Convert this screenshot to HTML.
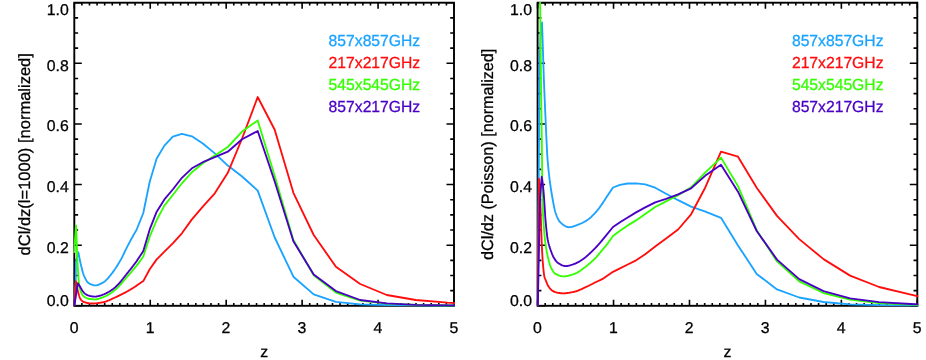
<!DOCTYPE html>
<html><head><meta charset="utf-8"><title>dCl/dz</title>
<style>
html,body{margin:0;padding:0;background:#fff;}
body{width:926px;height:360px;overflow:hidden;font-family:"Liberation Sans",sans-serif;}
svg{display:block;font-family:"Liberation Sans",sans-serif;will-change:transform;}
</style></head><body>
<svg width="926" height="360" viewBox="0 0 926 360" text-rendering="geometricPrecision">
<rect width="926" height="360" fill="#fff"/>
<g stroke="#000" stroke-width="1.9" fill="none" stroke-linecap="butt">
<rect x="74.3" y="2.7" width="379.7" height="303.1"/>
</g>
<g stroke="#000" stroke-width="1.6" fill="none" stroke-linecap="butt">
<path d="M74.30 305.8 v-6.0 M74.30 2.7 v6.0"/>
<path d="M81.89 305.8 v-2.9 M81.89 2.7 v2.9"/>
<path d="M89.49 305.8 v-2.9 M89.49 2.7 v2.9"/>
<path d="M97.08 305.8 v-2.9 M97.08 2.7 v2.9"/>
<path d="M104.68 305.8 v-2.9 M104.68 2.7 v2.9"/>
<path d="M112.27 305.8 v-2.9 M112.27 2.7 v2.9"/>
<path d="M119.86 305.8 v-2.9 M119.86 2.7 v2.9"/>
<path d="M127.46 305.8 v-2.9 M127.46 2.7 v2.9"/>
<path d="M135.05 305.8 v-2.9 M135.05 2.7 v2.9"/>
<path d="M142.65 305.8 v-2.9 M142.65 2.7 v2.9"/>
<path d="M150.24 305.8 v-6.0 M150.24 2.7 v6.0"/>
<path d="M157.83 305.8 v-2.9 M157.83 2.7 v2.9"/>
<path d="M165.43 305.8 v-2.9 M165.43 2.7 v2.9"/>
<path d="M173.02 305.8 v-2.9 M173.02 2.7 v2.9"/>
<path d="M180.62 305.8 v-2.9 M180.62 2.7 v2.9"/>
<path d="M188.21 305.8 v-2.9 M188.21 2.7 v2.9"/>
<path d="M195.80 305.8 v-2.9 M195.80 2.7 v2.9"/>
<path d="M203.40 305.8 v-2.9 M203.40 2.7 v2.9"/>
<path d="M210.99 305.8 v-2.9 M210.99 2.7 v2.9"/>
<path d="M218.59 305.8 v-2.9 M218.59 2.7 v2.9"/>
<path d="M226.18 305.8 v-6.0 M226.18 2.7 v6.0"/>
<path d="M233.77 305.8 v-2.9 M233.77 2.7 v2.9"/>
<path d="M241.37 305.8 v-2.9 M241.37 2.7 v2.9"/>
<path d="M248.96 305.8 v-2.9 M248.96 2.7 v2.9"/>
<path d="M256.56 305.8 v-2.9 M256.56 2.7 v2.9"/>
<path d="M264.15 305.8 v-2.9 M264.15 2.7 v2.9"/>
<path d="M271.74 305.8 v-2.9 M271.74 2.7 v2.9"/>
<path d="M279.34 305.8 v-2.9 M279.34 2.7 v2.9"/>
<path d="M286.93 305.8 v-2.9 M286.93 2.7 v2.9"/>
<path d="M294.53 305.8 v-2.9 M294.53 2.7 v2.9"/>
<path d="M302.12 305.8 v-6.0 M302.12 2.7 v6.0"/>
<path d="M309.71 305.8 v-2.9 M309.71 2.7 v2.9"/>
<path d="M317.31 305.8 v-2.9 M317.31 2.7 v2.9"/>
<path d="M324.90 305.8 v-2.9 M324.90 2.7 v2.9"/>
<path d="M332.50 305.8 v-2.9 M332.50 2.7 v2.9"/>
<path d="M340.09 305.8 v-2.9 M340.09 2.7 v2.9"/>
<path d="M347.68 305.8 v-2.9 M347.68 2.7 v2.9"/>
<path d="M355.28 305.8 v-2.9 M355.28 2.7 v2.9"/>
<path d="M362.87 305.8 v-2.9 M362.87 2.7 v2.9"/>
<path d="M370.47 305.8 v-2.9 M370.47 2.7 v2.9"/>
<path d="M378.06 305.8 v-6.0 M378.06 2.7 v6.0"/>
<path d="M385.65 305.8 v-2.9 M385.65 2.7 v2.9"/>
<path d="M393.25 305.8 v-2.9 M393.25 2.7 v2.9"/>
<path d="M400.84 305.8 v-2.9 M400.84 2.7 v2.9"/>
<path d="M408.44 305.8 v-2.9 M408.44 2.7 v2.9"/>
<path d="M416.03 305.8 v-2.9 M416.03 2.7 v2.9"/>
<path d="M423.62 305.8 v-2.9 M423.62 2.7 v2.9"/>
<path d="M431.22 305.8 v-2.9 M431.22 2.7 v2.9"/>
<path d="M438.81 305.8 v-2.9 M438.81 2.7 v2.9"/>
<path d="M446.41 305.8 v-2.9 M446.41 2.7 v2.9"/>
<path d="M454.00 305.8 v-6.0 M454.00 2.7 v6.0"/>
<path d="M74.3 305.80 h7.5 M454.0 305.80 h-7.5"/>
<path d="M74.3 290.64 h3.8 M454.0 290.64 h-3.8"/>
<path d="M74.3 275.49 h3.8 M454.0 275.49 h-3.8"/>
<path d="M74.3 260.34 h3.8 M454.0 260.34 h-3.8"/>
<path d="M74.3 245.18 h7.5 M454.0 245.18 h-7.5"/>
<path d="M74.3 230.03 h3.8 M454.0 230.03 h-3.8"/>
<path d="M74.3 214.87 h3.8 M454.0 214.87 h-3.8"/>
<path d="M74.3 199.72 h3.8 M454.0 199.72 h-3.8"/>
<path d="M74.3 184.56 h7.5 M454.0 184.56 h-7.5"/>
<path d="M74.3 169.41 h3.8 M454.0 169.41 h-3.8"/>
<path d="M74.3 154.25 h3.8 M454.0 154.25 h-3.8"/>
<path d="M74.3 139.09 h3.8 M454.0 139.09 h-3.8"/>
<path d="M74.3 123.94 h7.5 M454.0 123.94 h-7.5"/>
<path d="M74.3 108.78 h3.8 M454.0 108.78 h-3.8"/>
<path d="M74.3 93.63 h3.8 M454.0 93.63 h-3.8"/>
<path d="M74.3 78.48 h3.8 M454.0 78.48 h-3.8"/>
<path d="M74.3 63.32 h7.5 M454.0 63.32 h-7.5"/>
<path d="M74.3 48.16 h3.8 M454.0 48.16 h-3.8"/>
<path d="M74.3 33.01 h3.8 M454.0 33.01 h-3.8"/>
<path d="M74.3 17.85 h3.8 M454.0 17.85 h-3.8"/>
<path d="M74.3 2.70 h7.5 M454.0 2.70 h-7.5"/>
</g>
<g font-size="15.6" fill="#000">
<g transform="translate(74.10,333.40) scale(1.015,1)"><text text-anchor="middle" fill="#000" stroke="#000" stroke-width="0.28">0</text></g>
<g transform="translate(150.04,333.40) scale(1.015,1)"><text text-anchor="middle" fill="#000" stroke="#000" stroke-width="0.28">1</text></g>
<g transform="translate(225.98,333.40) scale(1.015,1)"><text text-anchor="middle" fill="#000" stroke="#000" stroke-width="0.28">2</text></g>
<g transform="translate(301.92,333.40) scale(1.015,1)"><text text-anchor="middle" fill="#000" stroke="#000" stroke-width="0.28">3</text></g>
<g transform="translate(377.86,333.40) scale(1.015,1)"><text text-anchor="middle" fill="#000" stroke="#000" stroke-width="0.28">4</text></g>
<g transform="translate(453.80,333.40) scale(1.015,1)"><text text-anchor="middle" fill="#000" stroke="#000" stroke-width="0.28">5</text></g>
<g transform="translate(68.70,15.10) scale(1.015,1)"><text text-anchor="end" fill="#000" stroke="#000" stroke-width="0.28">1.0</text></g>
<g transform="translate(68.70,70.70) scale(1.015,1)"><text text-anchor="end" fill="#000" stroke="#000" stroke-width="0.28">0.8</text></g>
<g transform="translate(68.70,131.40) scale(1.015,1)"><text text-anchor="end" fill="#000" stroke="#000" stroke-width="0.28">0.6</text></g>
<g transform="translate(68.70,192.10) scale(1.015,1)"><text text-anchor="end" fill="#000" stroke="#000" stroke-width="0.28">0.4</text></g>
<g transform="translate(68.70,252.90) scale(1.015,1)"><text text-anchor="end" fill="#000" stroke="#000" stroke-width="0.28">0.2</text></g>
<g transform="translate(68.70,305.60) scale(1.015,1)"><text text-anchor="end" fill="#000" stroke="#000" stroke-width="0.28">0.0</text></g>
<g transform="translate(264.15,356.70) scale(1.015,1)"><text text-anchor="middle" fill="#000" stroke="#000" stroke-width="0.28">z</text></g>
<g transform="translate(30.00,154.30) rotate(-90) scale(1.007,1)"><text text-anchor="middle" fill="#000" stroke="#000" stroke-width="0.28" font-size="16.4">dCl/dz(l=1000) [normalized]</text></g>
</g>
<clipPath id="cL"><rect x="73.3" y="1.9500000000000002" width="381.7" height="304.6"/></clipPath>
<g clip-path="url(#cL)">
<polyline points="74.3,305.8 75.7,280.0 75.9,262.0 78.4,252.3 78.9,255.1 79.4,257.7 79.9,260.2 80.4,262.6 80.9,264.8 81.1,265.6 81.4,266.8 81.9,268.8 82.4,270.7 82.9,272.5 83.4,274.1 83.9,275.5 84.4,276.7 84.9,277.7 85.4,278.7 85.9,279.6 86.4,280.5 86.9,281.2 87.4,281.9 87.9,282.5 88.4,283.0 88.9,283.3 89.4,283.6 89.9,283.8 90.4,284.1 90.9,284.3 91.4,284.5 91.9,284.7 92.4,284.9 92.9,285.0 93.4,285.2 93.9,285.3 94.4,285.3 94.9,285.4 95.3,285.4 95.4,285.4 95.9,285.4 96.4,285.3 96.9,285.2 97.4,285.1 97.9,285.0 98.4,284.8 98.9,284.6 99.4,284.4 99.9,284.2 100.4,283.9 100.9,283.7 101.4,283.4 101.9,283.2 102.4,282.9 102.9,282.6 103.3,282.4 103.4,282.3 103.9,282.0 104.4,281.7 104.9,281.3 105.4,280.9 105.9,280.4 106.4,279.9 106.9,279.4 107.4,278.8 107.9,278.3 108.4,277.7 108.9,277.1 109.4,276.5 109.9,275.9 110.4,275.3 110.9,274.6 111.1,274.4 111.4,274.0 111.9,273.4 112.4,272.8 112.9,272.1 113.4,271.4 113.9,270.7 114.4,270.0 114.9,269.3 115.4,268.5 115.9,267.8 116.4,267.0 116.9,266.2 117.4,265.4 117.9,264.6 118.4,263.8 118.9,263.0 119.4,262.1 119.9,261.3 120.0,261.1 120.4,260.4 120.9,259.5 121.4,258.6 121.9,257.6 122.4,256.6 122.9,255.6 123.4,254.6 123.9,253.5 124.4,252.5 124.9,251.4 125.4,250.4 125.9,249.4 126.4,248.4 126.9,247.3 127.4,246.4 127.8,245.6 127.9,245.4 128.4,244.5 128.9,243.5 129.4,242.6 129.9,241.7 130.4,240.7 130.9,239.8 131.4,238.9 131.9,238.0 132.4,237.1 132.9,236.2 133.4,235.3 133.9,234.4 134.4,233.5 134.9,232.6 135.4,231.7 135.9,230.9 136.4,230.0 136.7,229.5 143.3,213.0 149.7,181.8 156.7,158.5 164.4,145.6 172.8,136.7 181.9,133.9 191.9,136.3 202.8,143.5 214.8,153.4 227.8,165.6 242.1,176.5 257.7,190.6 274.7,237.5 293.4,276.7 313.7,294.4 335.9,301.8 360.2,304.4 386.8,305.2 415.8,305.5 447.6,305.7 482.3,305.8" fill="none" stroke="#1aa3ff" stroke-width="1.85" stroke-linejoin="round" stroke-linecap="butt"/>
<polyline points="74.2,305.8 76.0,281.3 76.5,284.2 77.0,287.0 77.5,289.4 77.9,291.1 78.0,291.5 78.5,293.4 79.0,295.2 79.5,296.8 80.0,298.1 80.4,298.9 80.5,299.1 81.0,299.8 81.5,300.4 82.0,300.9 82.5,301.4 83.0,301.7 83.3,301.8 83.5,301.9 84.0,302.0 84.5,302.2 85.0,302.4 85.5,302.5 86.0,302.6 86.5,302.8 87.0,302.9 87.5,303.0 88.0,303.1 88.5,303.2 89.0,303.3 89.5,303.3 90.0,303.4 90.5,303.4 91.0,303.5 91.5,303.5 92.0,303.5 92.2,303.5 92.5,303.5 93.0,303.5 93.5,303.5 94.0,303.5 94.5,303.4 95.0,303.4 95.5,303.3 96.0,303.3 96.5,303.3 97.0,303.2 97.5,303.1 98.0,303.1 98.5,303.0 99.0,302.9 99.5,302.8 100.0,302.8 100.5,302.7 101.0,302.6 101.5,302.5 102.0,302.4 102.5,302.3 103.0,302.3 103.3,302.2 103.5,302.2 104.0,302.1 104.5,301.9 105.0,301.8 105.5,301.6 106.0,301.5 106.5,301.3 107.0,301.1 107.5,300.9 108.0,300.7 108.5,300.5 109.0,300.3 109.5,300.1 110.0,299.8 110.5,299.6 111.0,299.4 111.5,299.1 112.0,298.9 112.5,298.7 113.0,298.4 113.5,298.2 114.0,298.0 114.4,297.8 114.5,297.8 115.0,297.5 115.5,297.3 116.0,297.1 116.5,296.9 117.0,296.6 117.5,296.4 118.0,296.2 118.5,295.9 119.0,295.7 119.5,295.4 120.0,295.2 120.5,294.9 121.0,294.7 121.5,294.4 122.0,294.2 122.5,293.9 123.0,293.7 123.5,293.4 124.0,293.2 124.5,292.9 125.0,292.6 125.5,292.4 126.0,292.1 126.5,291.8 127.0,291.5 127.5,291.3 127.8,291.1 128.0,291.0 128.5,290.7 129.0,290.4 129.5,290.1 130.0,289.8 130.5,289.5 131.0,289.2 131.5,288.9 132.0,288.6 132.5,288.3 133.0,288.0 133.5,287.7 134.0,287.4 134.5,287.0 135.0,286.7 135.5,286.4 136.0,286.1 136.5,285.7 136.7,285.6 143.3,281.1 149.7,269.2 156.7,259.4 164.4,251.7 172.8,243.3 181.9,233.3 191.9,219.4 202.8,206.7 214.8,193.3 227.8,172.8 242.1,138.5 257.7,97.0 274.7,129.8 293.4,192.8 313.7,235.0 335.9,266.7 360.2,284.0 386.8,295.0 415.8,300.0 447.6,302.7 482.3,304.5" fill="none" stroke="#ff0d0d" stroke-width="1.85" stroke-linejoin="round" stroke-linecap="butt"/>
<polyline points="74.0,253.0 76.0,225.5 76.5,237.6 76.8,244.0 77.0,251.1 77.3,259.0 77.5,262.7 77.9,269.0 78.0,270.6 78.5,278.7 78.7,281.0 79.0,283.4 79.5,286.5 79.9,288.3 80.0,288.7 80.5,290.5 81.0,292.0 81.5,293.3 82.0,294.2 82.1,294.4 82.5,295.0 83.0,295.6 83.5,296.1 84.0,296.6 84.5,296.9 84.9,297.2 85.0,297.3 85.5,297.5 86.0,297.8 86.5,298.0 87.0,298.3 87.5,298.5 88.0,298.6 88.5,298.8 89.0,298.9 89.3,298.9 89.5,298.9 90.0,299.0 90.5,299.0 91.0,299.1 91.5,299.1 92.0,299.2 92.5,299.2 93.0,299.2 93.5,299.3 94.0,299.3 94.5,299.3 95.0,299.3 95.5,299.3 96.0,299.3 96.5,299.2 97.0,299.2 97.5,299.1 98.0,299.0 98.5,298.9 99.0,298.7 99.5,298.6 100.0,298.4 100.5,298.2 101.0,298.1 101.5,297.9 102.0,297.7 102.5,297.5 103.0,297.3 103.3,297.2 103.5,297.1 104.0,296.9 104.5,296.7 105.0,296.5 105.5,296.3 106.0,296.0 106.5,295.8 107.0,295.5 107.5,295.2 108.0,294.9 108.5,294.6 109.0,294.3 109.5,294.0 110.0,293.7 110.5,293.3 111.0,293.0 111.5,292.6 112.0,292.3 112.5,291.9 113.0,291.6 113.5,291.2 114.0,290.8 114.4,290.5 114.5,290.4 115.0,290.0 115.5,289.6 116.0,289.2 116.5,288.7 117.0,288.2 117.5,287.7 118.0,287.2 118.5,286.7 119.0,286.2 119.5,285.6 120.0,285.1 120.5,284.5 121.0,284.0 121.5,283.4 122.0,282.8 122.5,282.2 123.0,281.6 123.5,281.0 124.0,280.4 124.5,279.8 125.0,279.3 125.5,278.7 126.0,278.1 126.5,277.5 127.0,276.9 127.5,276.3 127.8,276.0 128.0,275.8 128.5,275.2 129.0,274.6 129.5,274.1 130.0,273.5 130.5,272.9 131.0,272.3 131.5,271.8 132.0,271.2 132.5,270.6 133.0,270.0 133.5,269.4 134.0,268.8 134.5,268.2 135.0,267.6 135.5,267.0 136.0,266.4 136.5,265.8 136.7,265.6 143.3,256.5 149.7,236.7 156.7,220.0 164.4,205.6 172.8,195.0 181.9,183.3 191.9,172.2 202.8,163.3 214.8,155.6 227.8,147.0 242.1,131.6 257.7,120.4 274.7,176.0 293.4,240.0 313.7,275.2 335.9,292.5 360.2,300.6 386.8,303.6 415.8,304.9 447.6,305.5 482.3,305.8" fill="none" stroke="#33ff00" stroke-width="1.85" stroke-linejoin="round" stroke-linecap="butt"/>
<polyline points="74.3,305.8 77.9,283.3 78.4,284.1 78.9,284.8 79.4,285.6 79.9,286.4 80.4,287.2 80.9,288.1 81.4,289.0 81.9,289.9 82.4,290.7 82.7,291.1 82.9,291.4 83.4,292.0 83.9,292.6 84.4,293.1 84.9,293.6 85.4,294.0 85.9,294.3 86.0,294.4 86.4,294.6 86.9,294.9 87.4,295.1 87.9,295.3 88.4,295.5 88.9,295.7 89.4,295.9 89.9,296.0 90.4,296.1 90.9,296.2 91.4,296.3 91.9,296.3 92.4,296.4 92.9,296.5 93.4,296.5 93.9,296.6 94.4,296.6 94.9,296.6 95.4,296.6 95.9,296.6 96.4,296.5 96.9,296.4 97.4,296.3 97.9,296.2 98.4,296.1 98.9,296.0 99.4,295.9 99.9,295.7 100.4,295.6 100.9,295.5 101.4,295.3 101.9,295.1 102.4,294.9 102.9,294.7 103.4,294.5 103.9,294.3 104.4,294.1 104.9,293.8 105.4,293.6 105.9,293.3 106.0,293.3 106.4,293.1 106.9,292.8 107.4,292.6 107.9,292.3 108.4,292.0 108.9,291.8 109.4,291.5 109.9,291.2 110.4,290.8 110.9,290.5 111.4,290.2 111.9,289.9 112.4,289.5 112.9,289.1 113.4,288.8 113.9,288.4 114.4,288.0 114.9,287.6 115.4,287.2 115.9,286.7 116.4,286.2 116.9,285.7 117.4,285.2 117.9,284.7 118.4,284.2 118.9,283.6 119.4,283.0 119.9,282.4 120.4,281.9 120.9,281.3 121.4,280.6 121.9,280.0 122.4,279.4 122.9,278.8 123.4,278.1 123.9,277.5 124.4,276.9 124.9,276.2 125.4,275.6 125.9,275.0 126.4,274.3 126.9,273.7 127.4,273.1 127.8,272.6 127.9,272.5 128.4,271.9 128.9,271.2 129.4,270.6 129.9,270.0 130.4,269.4 130.9,268.7 131.4,268.1 131.9,267.4 132.4,266.8 132.9,266.1 133.4,265.5 133.9,264.8 134.4,264.2 134.9,263.5 135.4,262.8 135.9,262.2 136.4,261.5 136.7,261.1 143.3,251.1 149.7,229.4 156.7,211.7 164.4,199.4 172.8,189.5 181.9,177.8 191.9,168.3 202.8,162.2 214.8,157.2 227.8,151.7 242.1,139.2 257.7,131.0 274.7,181.5 293.4,241.3 313.7,274.4 335.9,291.1 360.2,300.0 386.8,303.3 415.8,304.8 447.6,305.4 482.3,305.7" fill="none" stroke="#4a00c4" stroke-width="1.85" stroke-linejoin="round" stroke-linecap="butt"/>
</g>
<g font-size="16.0">
<g transform="translate(328.60,46.25) scale(0.981,1)"><text text-anchor="start" fill="#1aa3ff" stroke="#1aa3ff" stroke-width="0.28">857x857GHz</text></g>
<g transform="translate(328.60,68.15) scale(0.981,1)"><text text-anchor="start" fill="#ff0d0d" stroke="#ff0d0d" stroke-width="0.28">217x217GHz</text></g>
<g transform="translate(328.60,90.05) scale(0.981,1)"><text text-anchor="start" fill="#33ff00" stroke="#33ff00" stroke-width="0.28">545x545GHz</text></g>
<g transform="translate(328.60,111.95) scale(0.981,1)"><text text-anchor="start" fill="#4a00c4" stroke="#4a00c4" stroke-width="0.28">857x217GHz</text></g>
</g>
<g stroke="#000" stroke-width="1.9" fill="none" stroke-linecap="butt">
<rect x="537.6" y="2.7" width="379.7" height="303.1"/>
</g>
<g stroke="#000" stroke-width="1.6" fill="none" stroke-linecap="butt">
<path d="M537.60 305.8 v-6.0 M537.60 2.7 v6.0"/>
<path d="M545.19 305.8 v-2.9 M545.19 2.7 v2.9"/>
<path d="M552.79 305.8 v-2.9 M552.79 2.7 v2.9"/>
<path d="M560.38 305.8 v-2.9 M560.38 2.7 v2.9"/>
<path d="M567.98 305.8 v-2.9 M567.98 2.7 v2.9"/>
<path d="M575.57 305.8 v-2.9 M575.57 2.7 v2.9"/>
<path d="M583.16 305.8 v-2.9 M583.16 2.7 v2.9"/>
<path d="M590.76 305.8 v-2.9 M590.76 2.7 v2.9"/>
<path d="M598.35 305.8 v-2.9 M598.35 2.7 v2.9"/>
<path d="M605.95 305.8 v-2.9 M605.95 2.7 v2.9"/>
<path d="M613.54 305.8 v-6.0 M613.54 2.7 v6.0"/>
<path d="M621.13 305.8 v-2.9 M621.13 2.7 v2.9"/>
<path d="M628.73 305.8 v-2.9 M628.73 2.7 v2.9"/>
<path d="M636.32 305.8 v-2.9 M636.32 2.7 v2.9"/>
<path d="M643.92 305.8 v-2.9 M643.92 2.7 v2.9"/>
<path d="M651.51 305.8 v-2.9 M651.51 2.7 v2.9"/>
<path d="M659.10 305.8 v-2.9 M659.10 2.7 v2.9"/>
<path d="M666.70 305.8 v-2.9 M666.70 2.7 v2.9"/>
<path d="M674.29 305.8 v-2.9 M674.29 2.7 v2.9"/>
<path d="M681.89 305.8 v-2.9 M681.89 2.7 v2.9"/>
<path d="M689.48 305.8 v-6.0 M689.48 2.7 v6.0"/>
<path d="M697.07 305.8 v-2.9 M697.07 2.7 v2.9"/>
<path d="M704.67 305.8 v-2.9 M704.67 2.7 v2.9"/>
<path d="M712.26 305.8 v-2.9 M712.26 2.7 v2.9"/>
<path d="M719.86 305.8 v-2.9 M719.86 2.7 v2.9"/>
<path d="M727.45 305.8 v-2.9 M727.45 2.7 v2.9"/>
<path d="M735.04 305.8 v-2.9 M735.04 2.7 v2.9"/>
<path d="M742.64 305.8 v-2.9 M742.64 2.7 v2.9"/>
<path d="M750.23 305.8 v-2.9 M750.23 2.7 v2.9"/>
<path d="M757.83 305.8 v-2.9 M757.83 2.7 v2.9"/>
<path d="M765.42 305.8 v-6.0 M765.42 2.7 v6.0"/>
<path d="M773.01 305.8 v-2.9 M773.01 2.7 v2.9"/>
<path d="M780.61 305.8 v-2.9 M780.61 2.7 v2.9"/>
<path d="M788.20 305.8 v-2.9 M788.20 2.7 v2.9"/>
<path d="M795.80 305.8 v-2.9 M795.80 2.7 v2.9"/>
<path d="M803.39 305.8 v-2.9 M803.39 2.7 v2.9"/>
<path d="M810.98 305.8 v-2.9 M810.98 2.7 v2.9"/>
<path d="M818.58 305.8 v-2.9 M818.58 2.7 v2.9"/>
<path d="M826.17 305.8 v-2.9 M826.17 2.7 v2.9"/>
<path d="M833.77 305.8 v-2.9 M833.77 2.7 v2.9"/>
<path d="M841.36 305.8 v-6.0 M841.36 2.7 v6.0"/>
<path d="M848.95 305.8 v-2.9 M848.95 2.7 v2.9"/>
<path d="M856.55 305.8 v-2.9 M856.55 2.7 v2.9"/>
<path d="M864.14 305.8 v-2.9 M864.14 2.7 v2.9"/>
<path d="M871.74 305.8 v-2.9 M871.74 2.7 v2.9"/>
<path d="M879.33 305.8 v-2.9 M879.33 2.7 v2.9"/>
<path d="M886.92 305.8 v-2.9 M886.92 2.7 v2.9"/>
<path d="M894.52 305.8 v-2.9 M894.52 2.7 v2.9"/>
<path d="M902.11 305.8 v-2.9 M902.11 2.7 v2.9"/>
<path d="M909.71 305.8 v-2.9 M909.71 2.7 v2.9"/>
<path d="M917.30 305.8 v-6.0 M917.30 2.7 v6.0"/>
<path d="M537.6 305.80 h7.5 M917.3 305.80 h-7.5"/>
<path d="M537.6 290.64 h3.8 M917.3 290.64 h-3.8"/>
<path d="M537.6 275.49 h3.8 M917.3 275.49 h-3.8"/>
<path d="M537.6 260.34 h3.8 M917.3 260.34 h-3.8"/>
<path d="M537.6 245.18 h7.5 M917.3 245.18 h-7.5"/>
<path d="M537.6 230.03 h3.8 M917.3 230.03 h-3.8"/>
<path d="M537.6 214.87 h3.8 M917.3 214.87 h-3.8"/>
<path d="M537.6 199.72 h3.8 M917.3 199.72 h-3.8"/>
<path d="M537.6 184.56 h7.5 M917.3 184.56 h-7.5"/>
<path d="M537.6 169.41 h3.8 M917.3 169.41 h-3.8"/>
<path d="M537.6 154.25 h3.8 M917.3 154.25 h-3.8"/>
<path d="M537.6 139.09 h3.8 M917.3 139.09 h-3.8"/>
<path d="M537.6 123.94 h7.5 M917.3 123.94 h-7.5"/>
<path d="M537.6 108.78 h3.8 M917.3 108.78 h-3.8"/>
<path d="M537.6 93.63 h3.8 M917.3 93.63 h-3.8"/>
<path d="M537.6 78.48 h3.8 M917.3 78.48 h-3.8"/>
<path d="M537.6 63.32 h7.5 M917.3 63.32 h-7.5"/>
<path d="M537.6 48.16 h3.8 M917.3 48.16 h-3.8"/>
<path d="M537.6 33.01 h3.8 M917.3 33.01 h-3.8"/>
<path d="M537.6 17.85 h3.8 M917.3 17.85 h-3.8"/>
<path d="M537.6 2.70 h7.5 M917.3 2.70 h-7.5"/>
</g>
<g font-size="15.6" fill="#000">
<g transform="translate(537.40,333.40) scale(1.015,1)"><text text-anchor="middle" fill="#000" stroke="#000" stroke-width="0.28">0</text></g>
<g transform="translate(613.34,333.40) scale(1.015,1)"><text text-anchor="middle" fill="#000" stroke="#000" stroke-width="0.28">1</text></g>
<g transform="translate(689.28,333.40) scale(1.015,1)"><text text-anchor="middle" fill="#000" stroke="#000" stroke-width="0.28">2</text></g>
<g transform="translate(765.22,333.40) scale(1.015,1)"><text text-anchor="middle" fill="#000" stroke="#000" stroke-width="0.28">3</text></g>
<g transform="translate(841.16,333.40) scale(1.015,1)"><text text-anchor="middle" fill="#000" stroke="#000" stroke-width="0.28">4</text></g>
<g transform="translate(917.10,333.40) scale(1.015,1)"><text text-anchor="middle" fill="#000" stroke="#000" stroke-width="0.28">5</text></g>
<g transform="translate(532.00,15.10) scale(1.015,1)"><text text-anchor="end" fill="#000" stroke="#000" stroke-width="0.28">1.0</text></g>
<g transform="translate(532.00,70.70) scale(1.015,1)"><text text-anchor="end" fill="#000" stroke="#000" stroke-width="0.28">0.8</text></g>
<g transform="translate(532.00,131.40) scale(1.015,1)"><text text-anchor="end" fill="#000" stroke="#000" stroke-width="0.28">0.6</text></g>
<g transform="translate(532.00,192.10) scale(1.015,1)"><text text-anchor="end" fill="#000" stroke="#000" stroke-width="0.28">0.4</text></g>
<g transform="translate(532.00,252.90) scale(1.015,1)"><text text-anchor="end" fill="#000" stroke="#000" stroke-width="0.28">0.2</text></g>
<g transform="translate(532.00,305.60) scale(1.015,1)"><text text-anchor="end" fill="#000" stroke="#000" stroke-width="0.28">0.0</text></g>
<g transform="translate(727.45,356.70) scale(1.015,1)"><text text-anchor="middle" fill="#000" stroke="#000" stroke-width="0.28">z</text></g>
<g transform="translate(493.30,154.30) rotate(-90) scale(0.9865,1)"><text text-anchor="middle" fill="#000" stroke="#000" stroke-width="0.28" font-size="16.4">dCl/dz (Poisson) [normalized]</text></g>
</g>
<clipPath id="cR"><rect x="536.6" y="1.9500000000000002" width="381.7" height="304.6"/></clipPath>
<g clip-path="url(#cR)">
<polyline points="537.6,305.8 539.1,130.0 539.6,60.0 540.6,33.0 542.0,22.5 542.5,37.0 542.6,40.0 543.0,52.5 543.5,68.4 543.9,80.0 544.0,82.7 544.5,95.2 545.0,106.8 545.5,117.8 545.6,120.0 546.0,128.9 546.5,140.3 547.0,150.6 547.5,158.7 547.6,160.0 548.0,164.6 548.5,169.8 549.0,174.5 549.5,178.7 550.0,182.6 550.5,186.2 551.0,189.4 551.5,192.5 552.0,195.5 552.5,198.3 552.8,200.0 553.0,201.1 553.5,203.9 554.0,206.5 554.5,208.9 555.0,211.0 555.5,212.7 555.6,213.0 556.0,214.1 556.5,215.5 557.0,216.8 557.5,217.9 558.0,219.0 558.5,219.9 559.0,220.8 559.5,221.4 560.0,222.0 560.5,222.5 561.0,222.9 561.5,223.4 562.0,223.8 562.5,224.3 563.0,224.7 563.5,225.0 564.0,225.4 564.5,225.7 565.0,226.0 565.5,226.3 566.0,226.5 566.5,226.7 567.0,226.9 567.5,227.0 568.0,227.1 568.5,227.2 568.9,227.2 569.0,227.2 569.5,227.2 570.0,227.1 570.5,227.1 571.0,227.0 571.5,226.9 572.0,226.8 572.5,226.7 573.0,226.6 573.5,226.4 574.0,226.2 574.5,226.1 575.0,225.9 575.5,225.7 576.0,225.5 576.5,225.3 577.0,225.1 577.5,224.9 578.0,224.7 578.5,224.5 579.0,224.3 579.5,224.1 580.0,223.9 580.5,223.7 581.0,223.5 581.5,223.3 582.0,223.0 582.5,222.8 583.0,222.5 583.5,222.3 584.0,222.0 584.5,221.7 585.0,221.5 585.5,221.2 586.0,220.9 586.5,220.5 587.0,220.2 587.5,219.9 588.0,219.5 588.5,219.2 588.9,218.9 589.0,218.8 589.5,218.4 590.0,218.0 590.5,217.6 591.0,217.2 591.5,216.7 592.0,216.2 592.5,215.7 593.0,215.2 593.5,214.7 594.0,214.2 594.5,213.6 595.0,213.1 595.5,212.5 596.0,211.9 596.5,211.3 596.7,211.1 597.0,210.7 597.5,210.1 598.0,209.5 598.5,208.9 599.0,208.3 599.5,207.6 600.0,206.9 600.5,206.2 601.0,205.5 601.5,204.8 602.0,204.1 602.5,203.4 603.0,202.6 603.5,201.8 604.0,201.1 604.5,200.3 605.0,199.5 605.5,198.7 605.6,198.5 613.0,187.5 620.0,184.8 627.7,183.5 636.1,183.3 645.2,184.4 655.2,187.7 666.1,193.8 678.1,200.2 691.1,206.7 705.4,211.7 721.0,217.8 738.0,245.4 756.7,273.9 777.0,289.4 799.2,297.5 823.5,302.0 850.1,304.3 879.1,305.2 910.9,305.5 945.6,305.8" fill="none" stroke="#1aa3ff" stroke-width="1.85" stroke-linejoin="round" stroke-linecap="butt"/>
<polyline points="537.6,305.8 539.1,178.8 539.6,187.4 540.1,198.0 540.4,205.0 540.6,210.2 541.1,225.0 541.6,240.0 542.1,250.9 542.6,259.5 542.8,262.2 543.1,265.8 543.6,271.1 544.1,275.1 544.4,276.7 544.6,277.4 545.1,278.8 545.6,279.9 546.1,281.2 546.6,282.4 547.1,283.7 547.6,284.8 548.1,285.8 548.3,286.1 548.6,286.6 549.1,287.3 549.6,288.0 550.1,288.6 550.6,289.2 551.1,289.7 551.6,290.2 552.1,290.5 552.2,290.6 552.6,290.8 553.1,291.1 553.6,291.4 554.1,291.6 554.6,291.9 555.1,292.1 555.6,292.2 556.1,292.4 556.6,292.6 557.1,292.7 557.6,292.8 557.8,292.8 558.1,292.8 558.6,292.9 559.1,293.0 559.6,293.0 560.1,293.1 560.6,293.2 561.1,293.2 561.6,293.2 562.1,293.3 562.6,293.3 563.1,293.3 563.3,293.3 563.6,293.3 564.1,293.3 564.6,293.3 565.1,293.2 565.6,293.2 566.1,293.2 566.6,293.1 567.1,293.0 567.6,293.0 568.1,292.9 568.6,292.8 569.1,292.8 569.6,292.7 570.1,292.6 570.6,292.5 571.1,292.4 571.6,292.3 572.1,292.2 572.6,292.1 573.1,292.0 573.6,291.9 574.1,291.8 574.4,291.7 574.6,291.7 575.1,291.5 575.6,291.4 576.1,291.3 576.6,291.1 577.1,290.9 577.6,290.8 578.1,290.6 578.6,290.4 579.1,290.2 579.6,289.9 580.1,289.7 580.6,289.5 581.1,289.3 581.6,289.1 582.1,288.8 582.6,288.6 583.1,288.4 583.6,288.1 584.1,287.9 584.6,287.7 585.1,287.4 585.6,287.2 586.1,287.0 586.6,286.7 587.1,286.5 587.6,286.3 588.1,286.0 588.6,285.8 589.1,285.5 589.6,285.3 590.1,285.0 590.6,284.8 591.1,284.5 591.6,284.3 592.1,284.0 592.6,283.8 593.1,283.5 593.6,283.2 594.1,283.0 594.6,282.7 595.1,282.5 595.6,282.2 596.1,282.0 596.6,281.7 596.7,281.7 597.1,281.5 597.6,281.3 598.1,281.0 598.6,280.8 599.1,280.6 599.6,280.3 600.1,280.1 600.6,279.9 601.1,279.6 601.6,279.4 602.1,279.2 602.6,278.9 603.1,278.7 603.3,278.6 613.0,271.8 620.0,268.3 627.7,264.5 636.1,260.3 645.2,254.3 655.2,246.5 666.1,238.6 678.1,229.5 691.1,214.3 705.4,187.2 721.0,151.7 738.0,156.7 756.7,187.7 777.0,215.9 799.2,239.1 823.5,259.1 850.1,275.6 879.1,287.0 910.9,294.6 945.6,302.7" fill="none" stroke="#ff0d0d" stroke-width="1.85" stroke-linejoin="round" stroke-linecap="butt"/>
<polyline points="540.1,1.0 540.6,41.9 540.8,60.0 541.1,90.9 541.2,100.0 541.6,126.4 541.8,140.0 542.1,166.2 542.2,175.0 542.5,200.0 542.6,203.6 543.1,215.2 543.4,220.0 543.6,223.2 544.1,230.3 544.6,236.2 545.0,240.0 545.1,240.8 545.6,244.6 546.1,248.0 546.6,250.9 547.1,253.5 547.6,255.8 547.8,256.7 548.1,258.0 548.6,260.0 549.1,262.0 549.6,263.7 550.1,265.3 550.6,266.7 551.1,267.8 551.6,268.8 552.1,269.7 552.6,270.5 553.1,271.3 553.6,272.0 554.1,272.6 554.6,273.1 555.1,273.6 555.6,273.9 556.1,274.2 556.6,274.4 557.1,274.7 557.6,274.9 558.1,275.2 558.6,275.4 559.1,275.6 559.6,275.7 560.1,275.9 560.6,276.0 561.1,276.2 561.6,276.3 562.1,276.3 562.6,276.4 563.1,276.4 563.3,276.4 563.6,276.4 564.1,276.4 564.6,276.3 565.1,276.3 565.6,276.2 566.1,276.2 566.6,276.1 567.1,276.0 567.6,275.9 568.1,275.8 568.6,275.7 569.1,275.5 569.6,275.4 570.1,275.3 570.6,275.1 571.1,275.0 571.6,274.8 572.1,274.7 572.6,274.5 573.1,274.3 573.6,274.2 574.1,274.0 574.4,273.9 574.6,273.8 575.1,273.6 575.6,273.4 576.1,273.2 576.6,273.0 577.1,272.7 577.6,272.4 578.1,272.1 578.6,271.8 579.1,271.5 579.6,271.2 580.1,270.8 580.6,270.5 581.1,270.1 581.6,269.7 582.1,269.4 582.6,269.0 583.1,268.6 583.6,268.2 584.1,267.8 584.6,267.5 585.1,267.1 585.6,266.7 586.1,266.3 586.6,265.9 587.1,265.5 587.6,265.1 588.1,264.7 588.6,264.3 589.1,263.9 589.6,263.5 590.1,263.0 590.6,262.6 591.1,262.1 591.6,261.7 592.1,261.2 592.6,260.7 593.1,260.3 593.6,259.8 594.1,259.3 594.6,258.8 595.1,258.3 595.6,257.8 596.1,257.3 596.6,256.8 596.7,256.7 607.8,243.3 613.0,236.0 620.0,230.7 627.7,225.4 636.1,220.4 645.2,214.0 655.2,207.0 666.1,201.4 678.1,195.1 691.1,187.4 705.4,172.4 721.0,157.6 738.0,186.1 756.7,230.2 777.0,261.4 799.2,281.3 823.5,293.0 850.1,299.6 879.1,303.2 910.9,304.6 945.6,305.8" fill="none" stroke="#33ff00" stroke-width="1.85" stroke-linejoin="round" stroke-linecap="butt"/>
<polyline points="537.8,305.8 539.6,220.0 540.1,198.0 541.7,176.7 542.2,179.6 542.7,183.5 543.2,188.0 543.4,190.0 543.7,193.4 544.2,200.0 544.7,207.8 545.2,216.0 545.5,220.0 545.7,222.2 546.2,227.5 546.7,232.2 547.2,236.3 547.7,239.5 547.8,240.0 548.2,241.9 548.7,244.0 549.2,245.8 549.7,247.4 550.2,248.9 550.6,250.0 550.7,250.3 551.2,251.7 551.7,253.0 552.2,254.3 552.7,255.4 553.2,256.5 553.7,257.5 553.9,257.8 554.2,258.3 554.7,259.1 555.2,259.9 555.7,260.6 556.2,261.2 556.7,261.8 557.2,262.3 557.7,262.7 557.8,262.8 558.2,263.1 558.7,263.4 559.2,263.7 559.7,264.0 560.2,264.3 560.7,264.6 561.2,264.9 561.7,265.1 562.2,265.3 562.7,265.5 563.2,265.7 563.7,265.8 564.2,266.0 564.7,266.0 565.2,266.1 565.6,266.1 565.7,266.1 566.2,266.1 566.7,266.0 567.2,266.0 567.7,265.9 568.2,265.8 568.7,265.7 569.2,265.6 569.7,265.5 570.2,265.3 570.7,265.2 571.2,265.0 571.7,264.8 572.2,264.7 572.7,264.5 573.2,264.3 573.7,264.1 574.2,264.0 574.4,263.9 574.7,263.8 575.2,263.6 575.7,263.4 576.2,263.2 576.7,262.9 577.2,262.7 577.7,262.4 578.2,262.1 578.7,261.9 579.2,261.6 579.7,261.3 580.2,261.0 580.7,260.6 581.2,260.3 581.7,260.0 582.2,259.6 582.7,259.3 583.2,259.0 583.3,258.9 583.7,258.6 584.2,258.3 584.7,257.9 585.2,257.5 585.7,257.1 586.2,256.7 586.7,256.2 587.2,255.8 587.7,255.4 588.2,254.9 588.7,254.4 589.2,254.0 589.7,253.5 590.2,253.0 590.7,252.6 591.2,252.1 591.7,251.6 592.2,251.1 592.7,250.6 593.2,250.1 593.7,249.6 594.2,249.1 594.7,248.6 595.2,248.1 595.7,247.6 596.2,247.0 596.7,246.5 597.2,246.0 597.7,245.4 598.2,244.9 598.7,244.3 599.2,243.7 599.7,243.2 600.2,242.6 600.7,242.0 601.2,241.4 601.7,240.8 602.2,240.2 602.7,239.6 603.2,239.0 603.3,238.9 613.0,227.0 620.0,222.3 627.7,217.5 636.1,212.4 645.2,207.4 655.2,202.4 666.1,198.9 678.1,194.4 691.1,188.3 705.4,175.6 721.0,164.7 738.0,191.7 756.7,231.0 777.0,259.6 799.2,279.1 823.5,291.2 850.1,298.4 879.1,302.1 910.9,304.0 945.6,305.8" fill="none" stroke="#4a00c4" stroke-width="1.85" stroke-linejoin="round" stroke-linecap="butt"/>
</g>
<g font-size="16.0">
<g transform="translate(791.90,46.25) scale(0.981,1)"><text text-anchor="start" fill="#1aa3ff" stroke="#1aa3ff" stroke-width="0.28">857x857GHz</text></g>
<g transform="translate(791.90,68.15) scale(0.981,1)"><text text-anchor="start" fill="#ff0d0d" stroke="#ff0d0d" stroke-width="0.28">217x217GHz</text></g>
<g transform="translate(791.90,90.05) scale(0.981,1)"><text text-anchor="start" fill="#33ff00" stroke="#33ff00" stroke-width="0.28">545x545GHz</text></g>
<g transform="translate(791.90,111.95) scale(0.981,1)"><text text-anchor="start" fill="#4a00c4" stroke="#4a00c4" stroke-width="0.28">857x217GHz</text></g>
</g>
</svg>
</body></html>
